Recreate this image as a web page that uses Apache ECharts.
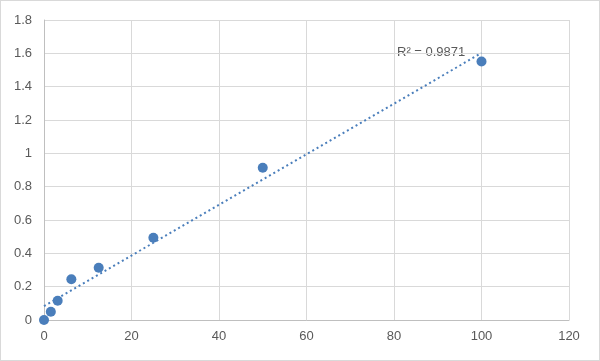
<!DOCTYPE html>
<html><head><meta charset="utf-8">
<script src="https://cdn.jsdelivr.net/npm/echarts@6/dist/echarts.min.js"></script>
<style>html,body{margin:0;padding:0;background:#fff}#c{width:600px;height:361px;box-sizing:border-box;border:1px solid #d9d9d9}</style>
</head><body><div id="c"></div>
<script>
const xValues = [0, 1.5625, 3.125, 6.25, 12.5, 25, 50, 100];
const yValues = [0, 0.05, 0.115, 0.244, 0.314, 0.493, 0.914, 1.551];
const xTicks = [0, 20, 40, 60, 80, 100, 120];
const yTicks = [0, 0.2, 0.4, 0.6, 0.8, 1, 1.2, 1.4, 1.6, 1.8];
const r2Text = 'R² = 0.9871';

const n = xValues.length;
const mx = xValues.reduce((a,b)=>a+b,0)/n, my = yValues.reduce((a,b)=>a+b,0)/n;
let sxx=0, sxy=0;
for (let i=0;i<n;i++){ sxx+=(xValues[i]-mx)**2; sxy+=(xValues[i]-mx)*(yValues[i]-my); }
const slope = sxy/sxx, icpt = my - slope*mx;
const xMin = Math.min(...xValues), xMax = Math.max(...xValues);
const trend = [[xMin, icpt+slope*xMin],[xMax, icpt+slope*xMax]];

const chart = echarts.init(document.getElementById('c'));
const lab = {color:'#595959', fontSize:13, fontFamily:'Liberation Sans, Arial, sans-serif'};
chart.setOption({
  animation:false,
  grid:{left:43, right:30, top:19, bottom:40, containLabel:false},
  xAxis:{type:'value', min:0, max:120, interval:20,
    axisLine:{show:true, lineStyle:{color:'#bfbfbf'}}, axisTick:{show:false},
    axisLabel:Object.assign({margin:10}, lab),
    splitLine:{show:true, lineStyle:{color:'#d9d9d9'}}},
  yAxis:{type:'value', min:0, max:1.8, interval:0.2,
    axisLine:{show:true, lineStyle:{color:'#bfbfbf'}}, axisTick:{show:false},
    axisLabel:Object.assign({margin:12, formatter:v=>String(+v.toFixed(1))}, lab),
    splitLine:{show:true, lineStyle:{color:'#d9d9d9'}}},
  series:[
    {type:'line', data:trend, symbol:'none', silent:true,
      lineStyle:{color:'#4a7ebb', width:2, type:[2,3]}, z:1},
    {type:'scatter', data:xValues.map((x,i)=>[x,yValues[i]]), symbolSize:10,
      itemStyle:{color:'#4a7ebb', opacity:1}, z:2}
  ],
  graphic:[{type:'text', left:396, top:45, style:{text:r2Text, fill:'#595959', fontSize:13, fontFamily:'Liberation Sans, Arial, sans-serif'}}]
});
</script></body></html>
